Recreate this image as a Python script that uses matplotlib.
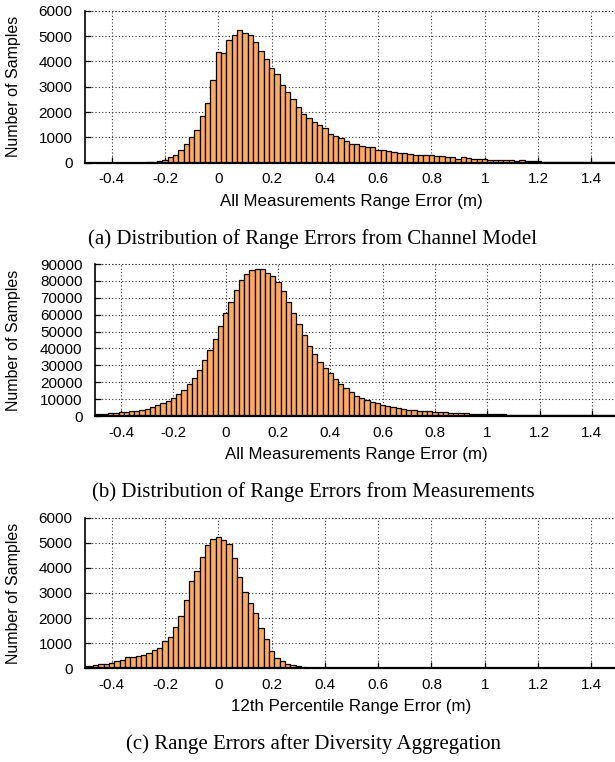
import numpy as np
import matplotlib

matplotlib.use("Agg")
import matplotlib.pyplot as plt

plt.rcParams["font.family"] = ["Liberation Sans", "DejaVu Sans"]

# bins of 0.02 m, centred on -0.50 ... 1.48
BIN_W = 0.02
BIN_CENTERS = np.round(np.arange(100) * BIN_W - 0.5, 2)

# (a) channel model
COUNTS_A = [
    0, 0, 0, 0, 0, 0, 0, 0, 0, 0, 0,
    5, 15, 30, 50,
    105, 210, 300, 490, 740, 1010, 1300, 1855, 2370, 3250,
    4355, 4315, 4855, 5025, 5235, 5130, 5040, 4775, 4420, 4105,
    3750, 3500, 3065, 2775, 2500, 2210, 1935, 1750, 1590, 1490,
    1355, 1145, 1050, 960, 855, 750, 750, 660, 605, 620,
    485, 485, 460, 410, 380, 370, 330, 315, 300, 300,
    290, 250, 250, 225, 225, 160, 210, 170, 160, 160,
    145, 120, 120, 90, 105, 90, 80, 90, 65, 65,
    50, 40, 40, 35, 30, 30, 25, 25, 20, 20,
    15, 15, 15, 10, 10,
]

# (b) measurements
COUNTS_B = [
    1000, 1180, 1380, 1580, 1780, 2170, 2370, 2760, 3160, 3750,
    4340, 5130, 6310, 7500, 9070, 10850, 12820, 15380, 18740, 22490,
    27020, 32940, 38860, 45360, 53250, 60750, 67650, 74750, 80280, 84220,
    86190, 86790, 86790, 84810, 83040, 79100, 74160, 67650, 61140, 54240,
    47730, 41420, 36490, 32150, 28200, 25250, 21700, 18740, 16370, 14200,
    12030, 10450, 9660, 8480, 7500, 6510, 5720, 5130, 4540, 4140,
    3750, 3350, 3160, 2960, 2760, 2560, 2370, 2170, 1970, 1780,
    1580, 1500, 1380, 1300, 1180, 1100, 1000, 950, 900, 850,
    800, 780, 750, 720, 700, 680, 650, 630, 610, 590,
    570, 560, 540, 520, 510, 500, 490, 480, 470, 460,
]

# (c) after diversity aggregation (12th percentile)
COUNTS_C = [
    80, 105, 135, 160, 185, 210, 280, 330, 440, 450,
    480, 545, 600, 715, 800, 1075, 1260, 1660, 2100, 2710,
    3465, 3890, 4420, 4930, 5140, 5220, 5100, 4940, 4380, 3640,
    3030, 2620, 2190, 1590, 1155, 690, 425, 305, 160, 120,
    80, 40, 25, 25, 20, 12, 10, 8, 6, 5,
    4, 4, 3, 3, 2, 2, 2, 1, 1, 1,
    0, 0, 0, 0, 0, 0, 0, 0, 0, 0,
    0, 0, 0, 0, 0, 0, 0, 0, 0, 0,
    0, 0, 0, 0, 0, 0, 0, 0, 0, 0,
    0, 0, 0, 0, 0, 0, 0, 0, 0, 0,
]

X_TICKS = [-0.4, -0.2, 0, 0.2, 0.4, 0.6, 0.8, 1, 1.2, 1.4]
X_TICKLABELS = ["-0.4", "-0.2", "0", "0.2", "0.4", "0.6", "0.8", "1", "1.2", "1.4"]

PANELS = [
    # counts, ymax, ystep, xlabel, caption, [left, top, bottom] in px
    (COUNTS_A, 6000, 1000, "All Measurements Range Error (m)",
     "(a) Distribution of Range Errors from Channel Model", (85, 10.7, 162.7)),
    (COUNTS_B, 90000, 10000, "All Measurements Range Error (m)",
     "(b) Distribution of Range Errors from Measurements", (95, 264, 416)),
    (COUNTS_C, 6000, 1000, "12th Percentile Range Error (m)",
     "(c) Range Errors after Diversity Aggregation", (85, 517.7, 668.3)),
]

W, H = 615, 762
fig = plt.figure(figsize=(W / 100, H / 100), dpi=100)

for counts, ymax, ystep, xlab, cap, (lpx, tpx, bpx) in PANELS:
    right_px = 618
    ax = fig.add_axes([lpx / W, 1 - bpx / H, (right_px - lpx) / W, (bpx - tpx) / H])
    ax.bar(BIN_CENTERS, counts, width=BIN_W, color="#ffab5a",
           edgecolor="black", linewidth=0.9, zorder=2)
    ax.set_xlim(-0.5, 1.5)
    ax.set_ylim(0, ymax)
    ax.set_yticks(np.arange(0, ymax + 1, ystep))
    ax.set_xticks(X_TICKS)
    ax.set_xticklabels(X_TICKLABELS)
    ax.tick_params(direction="in", length=4, width=0.9, labelsize=11,
                   top=False, right=False)
    ax.tick_params(axis="x", pad=7)
    ax.tick_params(axis="y", pad=9)
    ax.grid(True, linestyle=(0, (1, 2)), color="#333333", linewidth=0.8, zorder=0)
    ax.set_axisbelow(True)
    ax.axhline(ymax, linestyle=(0, (1, 2)), color="#333333", linewidth=0.8,
               clip_on=False, zorder=0)
    ax.spines["top"].set_visible(False)
    ax.spines["right"].set_visible(False)
    ax.spines["left"].set_linewidth(1.2)
    ax.spines["bottom"].set_linewidth(1.6)

    xc = (lpx + right_px) / 2
    fig.text(xc / W, 1 - (bpx + 38.5) / H, xlab, ha="center", va="center",
             fontsize=12.2)
    fig.text(14 / W, 1 - ((tpx + bpx) / 2) / H, "Number of Samples",
             rotation=90, ha="center", va="center", fontsize=11.5)
    fig.text(313 / W, 1 - (bpx + 76) / H, cap, ha="center", va="center",
             fontsize=15, family=["Liberation Serif", "DejaVu Serif"])

fig.savefig("out.png", dpi=100)
